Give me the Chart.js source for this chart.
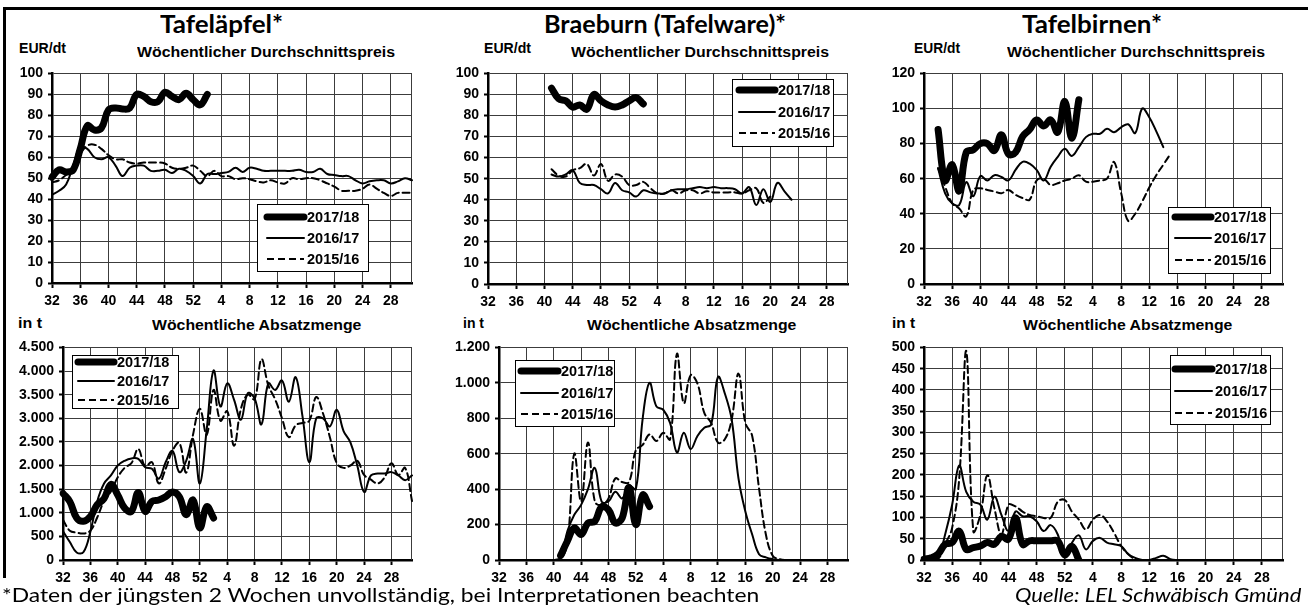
<!DOCTYPE html>
<html><head><meta charset="utf-8">
<script src="https://cdn.jsdelivr.net/npm/chart.js@4.4.1/dist/chart.umd.min.js"></script>
<style>
html,body{margin:0;padding:0;background:#fff;}
body{width:1308px;height:610px;position:relative;overflow:hidden;}
.t{position:absolute;white-space:nowrap;color:#000;}
canvas{position:absolute;}
.fr{position:absolute;background:#000;}
</style></head><body>
<div class="fr" style="left:3px;top:7px;width:1305px;height:2.5px"></div>
<div class="fr" style="left:3px;top:7px;width:2.5px;height:571px"></div>
<script>
const N = null;
const weeks = [32,33,34,35,36,37,38,39,40,41,42,43,44,45,46,47,48,49,50,51,52,1,2,3,4,5,6,7,8,9,10,11,12,13,14,15,16,17,18,19,20,21,22,23,24,25,26,27,28,29,30,31];
const seasons = ['2017/18','2016/17','2015/16'];
const titles = ['Tafeläpfel*','Braeburn (Tafelware)*','Tafelbirnen*'];
const priceTitle = 'Wöchentlicher Durchschnittspreis';
const qtyTitle = 'Wöchentliche Absatzmenge';
const priceUnit = 'EUR/dt';
const qtyUnit = 'in t';
const footnote = '*Daten der jüngsten 2 Wochen unvollständig, bei Interpretationen beachten';
const source = 'Quelle: LEL Schwäbisch Gmünd';

// Tafeläpfel – Preis (EUR/dt)
const apfelPreis1718 = [50.5,54,53,54,64,75,73,74,82.5,83.5,83,83.5,90,89,86.5,86.5,91,89,87.5,90.5,87.5,85,90,N,N,N,N,N,N,N,N,N,N,N,N,N,N,N,N,N,N,N,N,N,N,N,N,N,N,N,N,N];
const apfelPreis1617 = [42,44,47,56,65,64,60,59,60,56,51,55,56,56,53.5,53.5,54,52.5,54.5,53.5,51,47.5,52,52,52.5,53,55,53,55,54.5,53.5,53.5,53.5,53.5,53.5,54,53,53,54.5,52,51.5,51,51,49,47.5,48.5,49,49,47.5,48.5,50,49];
const apfelPreis1516 = [48,49,51.5,54,61.5,65.5,66,64,61,59,59,57.5,57,57.5,57.5,57.5,57,55,54.5,55,56,53.5,51,53.5,51,51,49.5,50,49.5,48.5,48,49,48,47.5,50,49.5,50,50,49,47.5,46,44,44,44,45,47,45,43,41.5,43,43,43];

// Braeburn – Preis (EUR/dt)
const braeburnPreis1718 = [N,N,N,N,N,N,N,N,N,93,88,87,84,85,83,90,87,85,84,85,87,88.5,85.5,N,N,N,N,N,N,N,N,N,N,N,N,N,N,N,N,N,N,N,N,N,N,N,N,N,N,N,N,N];
const braeburnPreis1617 = [N,N,N,N,N,N,N,N,N,52,51,52,54,48,47,47,45,43,48,44.5,43.5,41.5,44.5,43.5,43,43,44.5,45,45,45.5,46,45.5,46,45.5,45.5,45,43,46,37.5,45,39,48,44,40,N,N,N,N,N,N,N,N];
const braeburnPreis1516 = [N,N,N,N,N,N,N,N,N,54.5,51.5,51,54,55,57,51.5,57,49,52,51,47,47,48.5,45.5,43,43,44.5,43,44.5,44.5,43,44,43.5,43.5,43.5,43.5,43,44.5,45.5,38.5,41.5,N,N,N,N,N,N,N,N,N,N,N];

// Tafelbirnen – Preis (EUR/dt)
const birnenPreis1718 = [N,N,88,59,68,53,75,76.5,80,80,76,85,74,75,84,88,93.5,90,93.5,86.5,104,83,105,N,N,N,N,N,N,N,N,N,N,N,N,N,N,N,N,N,N,N,N,N,N,N,N,N,N,N,N,N];
const birnenPreis1617 = [N,N,66,51.7,46,45,58,50,61.5,59,62,61,59,65,69.6,68.6,65,59,66.8,72.4,77,73,78,83.7,85.6,85.6,88.4,86.5,89.3,91,86,100,95,87,78,N,N,N,N,N,N,N,N,N,N,N,N,N,N,N,N,N];
const birnenPreis1516 = [N,N,66,55.5,46,43,38.5,53.6,54.5,53.6,52.7,51.7,53.6,50.8,49,48,59,60,56.4,57.4,59,60,62,58.3,58.3,59,60,69.5,52,36,40,47,55,62,68,74,N,N,N,N,N,N,N,N,N,N,N,N,N,N,N,N];

// Tafeläpfel – Menge (t)
const apfelMenge1718 = [1410,1236,890,820,920,1170,1300,1600,1375,1100,1030,1430,1030,1240,1270,1340,1440,1340,960,1270,680,1130,890,N,N,N,N,N,N,N,N,N,N,N,N,N,N,N,N,N,N,N,N,N,N,N,N,N,N,N,N,N];
const apfelMenge1617 = [610,380,160,170,600,1240,1620,1790,2000,2100,2150,2140,1965,1930,1720,2070,2310,1860,2100,2560,1620,2760,4010,3250,3740,3390,2970,3530,3420,2870,3740,3600,3800,3350,3870,3040,2070,3000,3000,2830,3180,2730,2490,2000,1440,1790,1830,1830,1860,1790,1690,1790];
const apfelMenge1516 = [850,620,580,560,620,900,1250,1450,1750,1950,2050,2350,1980,2070,1620,1930,2310,2480,1850,2650,3200,2650,3600,2950,3150,2420,3200,3500,3400,4250,3700,3400,3000,2600,2850,2900,2950,3450,3100,2600,2050,1950,2000,2100,1800,1700,1620,1750,2050,1800,1950,1250];

// Braeburn – Menge (t)
const braeburnMenge1718 = [N,N,N,N,N,N,N,N,N,25,107,181,144,209,218,300,283,209,237,410,200,367,302,N,N,N,N,N,N,N,N,N,N,N,N,N,N,N,N,N,N,N,N,N,N,N,N,N,N,N,N,N];
const braeburnMenge1617 = [0,0,0,0,0,0,0,0,0,15,163,255,311,400,520,330,330,385,348,422,400,800,1000,867,848,774,607,718,626,700,746,765,1033,940,793,459,274,144,33,15,5,0,0,0,0,0,0,0,0,0,0,0];
const braeburnMenge1516 = [0,0,0,0,0,0,0,0,0,0,100,600,330,663,330,311,348,460,440,440,620,650,709,672,718,681,1163,885,1043,996,830,774,663,681,793,1052,774,700,404,144,24,5,0,0,0,0,0,0,0,0,0,0];

// Tafelbirnen – Menge (t)
const birnenMenge1718 = [2,5,14,37,41,68,25,29,33,41,37,56,49,99,37,45,45,45,45,45,12,32,0,N,N,N,N,N,N,N,N,N,N,N,N,N,N,N,N,N,N,N,N,N,N,N,N,N,N,N,N,N];
const birnenMenge1617 = [0,2,6,60,130,222,160,137,130,95,149,106,68,114,103,103,91,68,82,60,6,40,58,25,45,52,41,37,33,14,5,0,0,5,10,2,0,0,0,0,0,0,0,0,0,0,0,0,0,0,0,0];
const birnenMenge1516 = [0,0,2,37,76,191,492,68,106,199,122,60,130,126,114,106,103,99,99,137,141,114,95,72,95,106,91,64,33,14,2,0,0,0,0,0,0,0,0,0,0,0,0,0,0,0,0,0,0,0,0,0];

// y-axis settings
const priceMax = [100, 100, 120], priceStep = [10, 10, 20];
const qtyMax = [4500, 1200, 500], qtyStep = [500, 200, 50];

const GRID = '#3c3c3c';
const AX_FONT = "'Liberation Sans', Arial, sans-serif";
const seasonStyles = [
  {borderWidth: 7},
  {borderWidth: 2},
  {borderWidth: 2, borderDash: [7, 4]}
];

function deNum(v){ return String(v).replace(/\B(?=(\d{3})+(?!\d))/g, '.'); }

const legendLayouts = new Map();
const overlayPlugin = {
  id: 'overlay',
  beforeDatasetsDraw(chart){
    const {ctx, chartArea: a} = chart;
    ctx.save();
    ctx.strokeStyle = GRID; ctx.lineWidth = 1;
    const x = Math.round(a.right) - 0.5;
    ctx.beginPath(); ctx.moveTo(x, a.top); ctx.lineTo(x, a.bottom); ctx.stroke();
    ctx.restore();
  },
  afterDraw(chart){
    const L = legendLayouts.get(chart.canvas);
    if (!L) return;
    const ctx = chart.ctx;
    const ox = L.ox, oy = L.oy;
    ctx.save();
    ctx.fillStyle = '#fff';
    ctx.fillRect(L.x - ox, L.y - oy, L.w, L.h);
    ctx.strokeStyle = '#000'; ctx.lineWidth = 1;
    ctx.strokeRect(Math.round(L.x - ox) + 0.5, Math.round(L.y - oy) + 0.5, L.w, L.h);
    chart.data.datasets.forEach((ds, i) => {
      const y = L.rows[i] - oy;
      ctx.save();
      ctx.strokeStyle = '#000';
      ctx.lineWidth = ds.borderWidth;
      ctx.setLineDash(ds.borderDash || []);
      ctx.lineCap = ds.borderDash ? 'butt' : 'round';
      ctx.beginPath(); ctx.moveTo(L.s1 - ox, y); ctx.lineTo(L.s2 - ox, y); ctx.stroke();
      ctx.restore();
      ctx.fillStyle = '#000';
      ctx.font = "bold 14.5px " + AX_FONT;
      ctx.textBaseline = 'middle';
      ctx.fillText(ds.label, L.tx - ox, y + 1);
    });
    ctx.restore();
  }
};

function makePanel(p){
  const c = document.createElement('canvas');
  c.width = p.w; c.height = p.h;
  c.style.left = p.left + 'px'; c.style.top = p.top + 'px';
  c.style.width = p.w + 'px'; c.style.height = p.h + 'px';
  document.body.appendChild(c);
  legendLayouts.set(c, Object.assign({ox: p.left, oy: p.top}, p.legend));
  const yw = p.plot.l - p.left, padTop = p.plot.t - p.top;
  const padRight = p.left + p.w - p.plot.r, xh = p.top + p.h - p.plot.b;
  new Chart(c, {
    type: 'line',
    data: {
      labels: weeks,
      datasets: p.series.map((d, i) => Object.assign({
        label: seasons[i], data: d, borderColor: '#000', backgroundColor: '#000',
        fill: false, pointRadius: 0, tension: 0.4, spanGaps: false,
        borderCapStyle: 'round', borderJoinStyle: 'round'
      }, seasonStyles[i]))
    },
    options: {
      responsive: false, animation: false, devicePixelRatio: 1,
      layout: {padding: {top: padTop, right: padRight, left: 0, bottom: 0}},
      plugins: {legend: {display: false}, tooltip: {enabled: false}},
      scales: {
        x: {
          type: 'category',
          grid: {
            color: c => (c.index % 4 === 0 ? GRID : 'rgba(0,0,0,0)'),
            lineWidth: 1, tickLength: 5, tickWidth: 2,
            tickColor: c => (c.index % 4 === 0 ? '#000' : 'rgba(0,0,0,0)')
          },
          border: {color: '#000', width: 2.5},
          ticks: {
            autoSkip: false, maxRotation: 0, minRotation: 0, padding: 5, color: '#000',
            font: {family: AX_FONT, weight: 'bold', size: 14},
            callback(v, i){ return i % 4 === 0 ? String(this.getLabelForValue(v)) : ''; }
          },
          afterFit(s){ s.height = xh; }
        },
        y: {
          min: 0, max: p.max,
          grid: {color: GRID, lineWidth: 1, tickLength: 4, tickWidth: 2, tickColor: '#000'},
          border: {color: '#000', width: 2.5},
          ticks: {
            stepSize: p.step, padding: 5, color: '#000',
            font: {family: AX_FONT, weight: 'bold', size: 14},
            callback: v => deNum(v)
          },
          afterFit(s){ s.width = yw; }
        }
      }
    },
    plugins: [overlayPlugin]
  });
}

const panels = [
  {left: 0, top: 60, w: 425, h: 250, plot: {l: 52, t: 70, r: 412, b: 283}, max: priceMax[0], step: priceStep[0],
   series: [apfelPreis1718, apfelPreis1617, apfelPreis1516],
   legend: {x: 257, y: 204, w: 111, h: 67, s1: 267, s2: 304, tx: 307, rows: [217, 238, 259]}},
  {left: 436, top: 60, w: 425, h: 250, plot: {l: 488, t: 71, r: 848, b: 284}, max: priceMax[1], step: priceStep[1],
   series: [braeburnPreis1718, braeburnPreis1617, braeburnPreis1516],
   legend: {x: 732, y: 79, w: 101, h: 67, s1: 739, s2: 775, tx: 778, rows: [90, 112, 133]}},
  {left: 872, top: 60, w: 425, h: 250, plot: {l: 924, t: 71, r: 1283, b: 284}, max: priceMax[2], step: priceStep[2],
   series: [birnenPreis1718, birnenPreis1617, birnenPreis1516],
   legend: {x: 1168, y: 207, w: 102, h: 66, s1: 1175, s2: 1211, tx: 1214, rows: [217, 238, 260]}},
  {left: 0, top: 334, w: 425, h: 262, plot: {l: 63, t: 344, r: 412, b: 560}, max: qtyMax[0], step: qtyStep[0],
   series: [apfelMenge1718, apfelMenge1617, apfelMenge1516],
   legend: {x: 72, y: 355, w: 106, h: 53, s1: 78, s2: 114, tx: 117, rows: [362, 381, 400]}},
  {left: 436, top: 334, w: 425, h: 262, plot: {l: 499, t: 344, r: 848, b: 560}, max: qtyMax[1], step: qtyStep[1],
   series: [braeburnMenge1718, braeburnMenge1617, braeburnMenge1516],
   legend: {x: 515, y: 360, w: 99, h: 66, s1: 521, s2: 558, tx: 561, rows: [371, 393, 414]}},
  {left: 872, top: 334, w: 425, h: 262, plot: {l: 924, t: 344, r: 1283, b: 560}, max: qtyMax[2], step: qtyStep[2],
   series: [birnenMenge1718, birnenMenge1617, birnenMenge1516],
   legend: {x: 1170, y: 355, w: 100, h: 69, s1: 1175, s2: 1212, tx: 1215, rows: [369, 391, 413]}}
];
panels.forEach(makePanel);

// ---- HTML text ----
const mctx = document.createElement('canvas').getContext('2d');
function addText(txt, o){
  const font = `${o.style || 'normal'} ${o.weight || 'normal'} ${o.size}px ${o.family}`;
  mctx.font = font;
  const m = mctx.measureText(txt);
  const A = m.fontBoundingBoxAscent, D = m.fontBoundingBoxDescent;
  let base = o.baseline;
  if (base === undefined) {
    const cap = mctx.measureText('H').actualBoundingBoxAscent;
    base = o.cy + cap / 2;
  }
  const lh = Math.ceil(A + D);
  const d = document.createElement('div');
  d.className = 't';
  d.textContent = txt;
  d.style.font = font;
  d.style.lineHeight = lh + 'px';
  d.style.left = o.x + 'px';
  d.style.top = (base - A - (lh - A - D) / 2) + 'px';
  if (o.width) {
    d.style.transformOrigin = '0 0';
    d.style.transform = `scaleX(${(o.width / m.width).toFixed(4)})`;
  }
  document.body.appendChild(d);
}
const TITLE_FONT = "Lato, 'Open Sans', sans-serif";
addText(titles[0], {x: 160, baseline: 33, width: 123, size: 24, weight: 'bold', family: TITLE_FONT});
addText(titles[1], {x: 544, baseline: 33, width: 242, size: 24, weight: 'bold', family: TITLE_FONT});
addText(titles[2], {x: 1022, baseline: 33, width: 140, size: 24, weight: 'bold', family: TITLE_FONT});

[[19, 47], [484, 47], [914, 46]].forEach(([x, w]) =>
  addText(priceUnit, {x, cy: 48, width: w, size: 14, weight: 'bold', family: AX_FONT}));
[137, 571, 1007].forEach(x =>
  addText(priceTitle, {x, cy: 52, width: 258, size: 14.5, weight: 'bold', family: AX_FONT}));
[[18, 24], [463, 21], [892, 23]].forEach(([x, w]) =>
  addText(qtyUnit, {x, cy: 323, width: w, size: 14, weight: 'bold', family: AX_FONT}));
[152, 587, 1023].forEach(x =>
  addText(qtyTitle, {x, cy: 325, width: 210, size: 14.5, weight: 'bold', family: AX_FONT}));

addText(footnote, {x: 2, baseline: 602, width: 758, size: 20, family: TITLE_FONT});
addText(source, {x: 1015, baseline: 602, width: 287, size: 20, style: 'italic', family: TITLE_FONT});
</script>
</body></html>
